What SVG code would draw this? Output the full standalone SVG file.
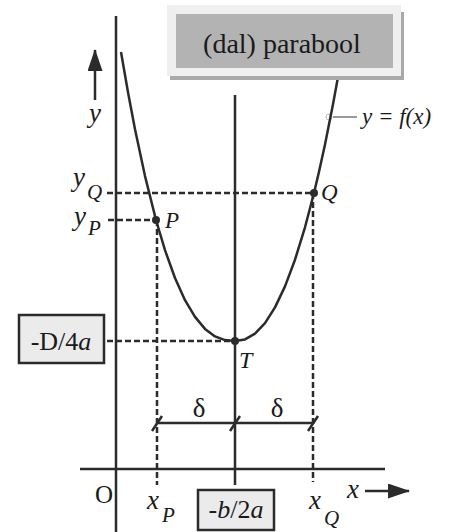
<svg xmlns="http://www.w3.org/2000/svg" width="449" height="532" viewBox="0 0 449 532">
<defs>
<style>
.ln{stroke:#2b2b2b;stroke-width:2.5;fill:none;stroke-linecap:butt;stroke-linejoin:round}
.ds{stroke:#2b2b2b;stroke-width:2.5;fill:none;stroke-dasharray:6 3}
text{font-family:'Liberation Serif','DejaVu Serif','Times New Roman',serif;fill:#1a1a1a}
.i{font-style:italic}
.box{fill:#ebebeb;stroke:#2b2b2b;stroke-width:2.5}
</style>
<marker id="ah" viewBox="0 0 22 15" refX="21" refY="7.5" markerWidth="8.8" markerHeight="6" orient="auto" markerUnits="strokeWidth">
<path d="M0,0 L22,7.5 L0,15 z" fill="#2b2b2b"/>
</marker>
</defs>
<rect width="449" height="532" fill="#fff"/>

<g id="connectors">
<line class="ln" x1="116" y1="16" x2="116" y2="532"/>
<line class="ln" x1="80" y1="469" x2="385" y2="469"/>
<line class="ln" x1="235" y1="95" x2="235" y2="485"/>
<line class="ln" x1="95" y1="100" x2="95" y2="50" marker-end="url(#ah)"/>
<line class="ln" x1="365" y1="491" x2="409" y2="491" marker-end="url(#ah)"/>
<line class="ds" x1="107" y1="193" x2="314" y2="193"/>
<line class="ds" x1="108" y1="220" x2="156" y2="220"/>
<line class="ds" x1="107" y1="341" x2="235" y2="341"/>
<line class="ds" x1="157" y1="220" x2="157" y2="485"/>
<line class="ds" x1="313" y1="193" x2="313" y2="482"/>
<line class="ln" x1="157" y1="423" x2="313" y2="423"/>
<line class="ln" x1="152" y1="431" x2="162" y2="416"/>
<line class="ln" x1="230" y1="431" x2="240" y2="416"/>
<line class="ln" x1="308" y1="431" x2="318" y2="416"/>
<line x1="333" y1="117" x2="357" y2="117" stroke="#555" stroke-width="1.2"/>
<circle cx="329" cy="117" r="3" fill="none" stroke="#bbb" stroke-width="1"/>
</g>

<g id="parabola">
<path class="ln" d="M121,52 L128,92.3 L135,129.3 L145,176.1 L156,220 L165,250.2 L175,278 L185,300.2 L195,316.9 L205,328.9 L215,336.4 L225,340.1 L235,341 L245,339.4 L255,333.6 L265,323.1 L275,307.4 L285,286.4 L295,259.7 L305,227.3 L314,193 L319,171.8 L325,144.4 L333,104.2 L338,77 L343,48.4"/>
</g>

<g id="title">
<rect x="170" y="12" width="234" height="68" fill="#a9a9a9"/>
<rect x="167" y="5" width="234" height="71" fill="#efefef"/>
<rect x="176" y="14" width="217" height="54" fill="#b3b3b3"/>
<text x="282" y="53" font-size="28" text-anchor="middle">(dal) parabool</text>
</g>

<g id="point-P">
<circle cx="156" cy="220" r="4" fill="#2b2b2b"/>
<text class="i" x="165" y="228" font-size="23">P</text>
</g>
<g id="point-Q">
<circle cx="314" cy="193" r="4" fill="#2b2b2b"/>
<text class="i" x="321" y="200" font-size="23">Q</text>
</g>
<g id="point-T">
<circle cx="235" cy="341" r="4" fill="#2b2b2b"/>
<text class="i" x="239" y="368" font-size="24">T</text>
</g>

<g id="label-fx">
<text class="i" x="362" y="124" font-size="23">y = f(x)</text>
</g>

<g id="axis-labels">
<text class="i" x="89" y="122" font-size="27">y</text>
<text class="i" x="73" y="186" font-size="27">y</text>
<text class="i" x="87" y="199" font-size="21">Q</text>
<text class="i" x="74" y="225" font-size="27">y</text>
<text class="i" x="88" y="235" font-size="21">P</text>
<text x="95" y="503" font-size="25">O</text>
<text class="i" x="147" y="509" font-size="27">x</text>
<text class="i" x="162" y="522" font-size="21">P</text>
<text class="i" x="309" y="509" font-size="27">x</text>
<text class="i" x="324" y="525" font-size="21">Q</text>
<text class="i" x="347" y="498" font-size="27">x</text>
<text x="199" y="417" font-size="27" text-anchor="middle">δ</text>
<text x="277" y="417" font-size="27" text-anchor="middle">δ</text>
</g>

<g id="box-D4a">
<rect class="box" x="19" y="315" width="85" height="48"/>
<text x="61" y="350" font-size="26" text-anchor="middle">-D/4<tspan class="i">a</tspan></text>
</g>

<g id="box-b2a">
<rect class="box" x="198" y="490" width="76" height="40"/>
<text x="236" y="518" font-size="26" text-anchor="middle">-<tspan class="i">b</tspan>/2<tspan class="i">a</tspan></text>
</g>
</svg>
